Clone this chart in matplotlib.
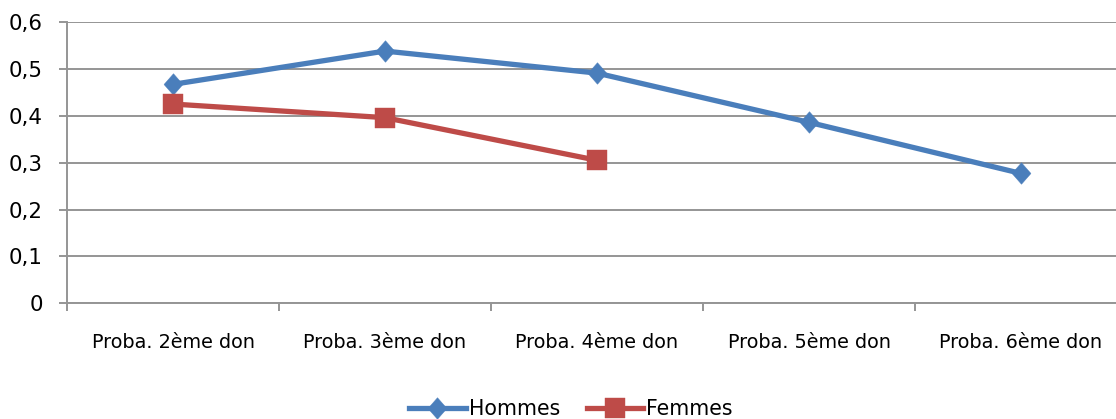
import matplotlib
matplotlib.use("Agg")
import matplotlib.pyplot as plt
from matplotlib.ticker import FixedLocator, FuncFormatter

categories = ["Proba. 2ème don", "Proba. 3ème don", "Proba. 4ème don",
              "Proba. 5ème don", "Proba. 6ème don"]
hommes = [0.467, 0.538, 0.491, 0.386, 0.277]
femmes = [0.425, 0.396, 0.305]

plt.rcParams['font.family'] = ['DejaVu Sans']

fig = plt.figure(figsize=(11.16, 4.19), dpi=100)
W, H = 1116, 419
left, right, top, bottom = 67, 1127, 22, 303.3
ax = fig.add_axes([left / W, 1 - bottom / H, (right - left) / W, (bottom - top) / H])

blue = "#4A7EBB"
red = "#BE4B48"
grid = "#959595"

diamond = [(0, 1), (0.88, 0), (0, -1), (-0.88, 0), (0, 1)]

x_h = list(range(len(hommes)))
x_f = list(range(len(femmes)))
ax.plot(x_h, hommes, color=blue, lw=3.8, marker=diamond, ms=15.5, mec=blue, mfc=blue,
        mew=0.3, label="Hommes", zorder=3, clip_on=False)
ax.plot(x_f, femmes, color=red, lw=3.8, marker="s", ms=14, mec=red, mfc=red,
        mew=0.3, label="Femmes", zorder=3, clip_on=False)

ax.set_xlim(-0.5, len(categories) - 0.5)
ax.set_ylim(0, 0.6)
ax.set_yticks([0, 0.1, 0.2, 0.3, 0.4, 0.5, 0.6])
ax.yaxis.set_major_formatter(FuncFormatter(
    lambda v, p: "0" if abs(v) < 1e-9 else f"{v:.1f}".replace(".", ",")))
ax.grid(axis="y", color=grid, lw=1.4)
ax.set_axisbelow(True)

ax.xaxis.set_major_locator(FixedLocator([i - 0.5 for i in range(len(categories) + 1)]))
ax.xaxis.set_major_formatter(FuncFormatter(lambda v, p: ""))
ax.xaxis.set_minor_locator(FixedLocator(list(range(len(categories)))))
ax.set_xticklabels(categories, minor=True)
ax.tick_params(axis="x", which="minor", length=0, labelsize=13.9, pad=21.5)
ax.tick_params(axis="x", which="major", length=5.8, width=1.4, color=grid, direction="out")
ax.tick_params(axis="y", length=5.8, width=1.4, color=grid, labelsize=15.4, pad=11.5)

for s in ["top", "right"]:
    ax.spines[s].set_visible(False)
ax.spines["left"].set_color(grid)
ax.spines["left"].set_linewidth(1.4)
ax.spines["bottom"].set_color(grid)
ax.spines["bottom"].set_linewidth(1.4)

fig.legend(loc="center", bbox_to_anchor=(571 / W, 1 - 409 / H), ncol=2, frameon=False,
           fontsize=14.8, handlelength=2.75, columnspacing=1.3, handletextpad=0.15,
           borderpad=0.0)

fig.savefig("out.png", dpi=100)
